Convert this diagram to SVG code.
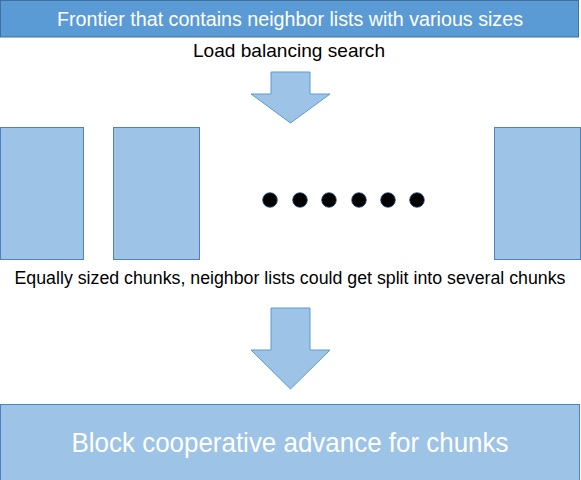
<svg xmlns="http://www.w3.org/2000/svg" width="581" height="480" viewBox="0 0 581 480">
<style>
.t{font-family:"Liberation Sans","Open Sans",sans-serif;text-anchor:middle}
.w{fill:#ffffff}
.k{fill:#000000}
.box{fill:#9DC3E6;stroke:#4F81BD;stroke-width:1}
.arrow{fill:#9DC3E6;stroke:#5B9BD5;stroke-width:1}
.dot{fill:#000000;stroke:#1F4E79;stroke-width:0.8}
</style>
<rect width="581" height="480" fill="#ffffff"/>
<g id="frontier">
<rect x="0.5" y="0.5" width="578" height="36.5" fill="#5B9BD5" stroke="#41719C"/>
<text class="t w" x="290" y="26" font-size="19.5" textLength="466" lengthAdjust="spacingAndGlyphs">Frontier that contains neighbor lists with various sizes</text>
</g>
<g id="lbs-label">
<text class="t k" x="289" y="57" font-size="18.5" textLength="192" lengthAdjust="spacingAndGlyphs">Load balancing search</text>
</g>
<g id="connectors">
<path class="arrow" d="M271,72 H310 V94 H330 L290.5,123 L251,94 H271 Z"/>
<path class="arrow" d="M271,308 H310 V350 H330 L290.5,389 L251,350 H271 Z"/>
</g>
<g id="chunk1"><rect class="box" x="0.5" y="127.5" width="83" height="132"/></g>
<g id="chunk2"><rect class="box" x="113.5" y="127.5" width="86" height="132"/></g>
<g id="ellipsis">
<circle class="dot" cx="270" cy="200" r="7.3"/>
<circle class="dot" cx="300" cy="200" r="7.3"/>
<circle class="dot" cx="329" cy="200" r="7.3"/>
<circle class="dot" cx="359" cy="200" r="7.3"/>
<circle class="dot" cx="388" cy="200" r="7.3"/>
<circle class="dot" cx="417" cy="200" r="7.3"/>
</g>
<g id="chunkN"><rect class="box" x="494.5" y="127.5" width="86" height="132"/></g>
<g id="chunks-label">
<text class="t k" x="290" y="284" font-size="17.5" textLength="551" lengthAdjust="spacingAndGlyphs">Equally sized chunks, neighbor lists could get split into several chunks</text>
</g>
<g id="advance">
<rect x="0.5" y="404.5" width="579" height="80" fill="#9DC3E6" stroke="#4F81BD"/>
<text class="t w" x="290" y="452" font-size="28" textLength="437" lengthAdjust="spacingAndGlyphs">Block cooperative advance for chunks</text>
</g>
</svg>
